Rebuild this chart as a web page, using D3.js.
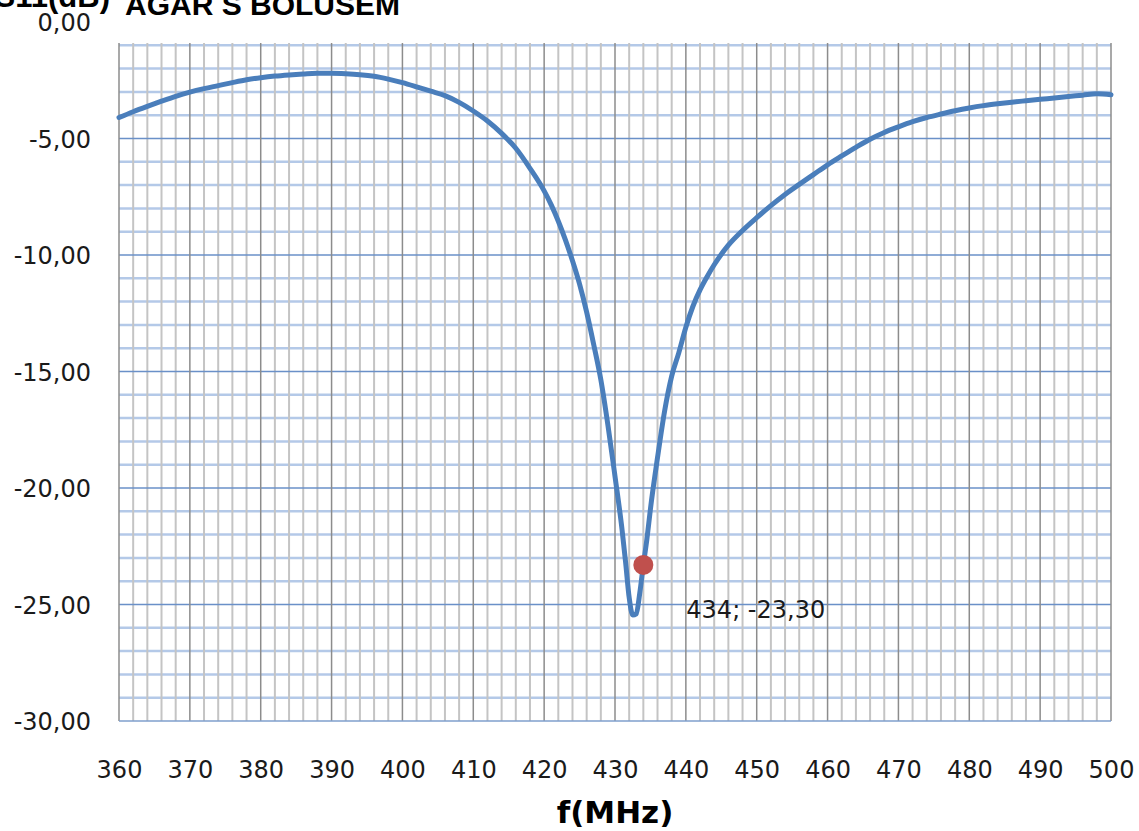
<!DOCTYPE html>
<html>
<head>
<meta charset="utf-8">
<script src="https://cdn.jsdelivr.net/npm/d3@7"></script>
<style>
  body { margin: 0; background: #fff; }
  svg { display: block; }
  .tick text { font-family: 'DejaVu Sans', sans-serif; font-size: 24px; fill: #1a1a1a; }
</style>
</head>
<body>
<script>
'use strict'

var freq = [360, 362, 364, 366, 368, 370, 372, 374, 376, 378, 380, 382, 384, 386, 388, 390,
  392, 394, 396, 398, 400, 402, 404, 406, 408, 410, 412, 414, 416, 418, 420, 421, 422, 423,
  424, 425, 426, 427, 428, 429, 430, 431, 431.5, 432, 432.5, 433, 433.5, 434, 434.5, 435,
  436, 437, 438, 439, 440, 441, 442, 443, 444, 446, 448, 450, 452, 454, 456, 458, 460, 462,
  464, 466, 468, 470, 472, 474, 476, 478, 480, 482, 484, 486, 488, 490, 492, 494, 496, 498, 500]
var s11 = [-4.10, -3.85, -3.62, -3.40, -3.19, -3.01, -2.86, -2.73, -2.60, -2.48, -2.39, -2.32,
  -2.27, -2.23, -2.20, -2.20, -2.22, -2.26, -2.33, -2.45, -2.60, -2.78, -2.97, -3.16, -3.45,
  -3.82, -4.25, -4.78, -5.42, -6.28, -7.25, -7.85, -8.55, -9.35, -10.25, -11.25, -12.45,
  -13.85, -15.35, -17.30, -19.50, -21.80, -23.20, -24.70, -25.45, -25.40, -24.50, -23.30,
  -22.20, -20.90, -18.70, -16.70, -15.20, -14.20, -13.10, -12.20, -11.50, -10.93, -10.42,
  -9.58, -8.95, -8.40, -7.88, -7.40, -6.97, -6.55, -6.13, -5.75, -5.38, -5.03, -4.74, -4.50,
  -4.28, -4.10, -3.95, -3.81, -3.69, -3.59, -3.51, -3.44, -3.38, -3.32, -3.26, -3.20, -3.14,
  -3.08, -3.12]

var marker = { f: 434, v: -23.30 }

var xTicks = [360, 370, 380, 390, 400, 410, 420, 430, 440, 450, 460, 470, 480, 490, 500]
var yTicks = [0, -5, -10, -15, -20, -25, -30]

var opts = {
  width: 1139,
  height: 831,
  left: 119,
  right: 1111,
  top: 22,
  bottom: 721,
  clipTop: 43
}

var locale = d3.formatLocale({ decimal: ',', thousands: '.', grouping: [3], currency: ['', ''], minus: '-' })
var fmt = locale.format('.2f')

var svg = d3.select('body').append('svg')
  .attr('width', opts.width)
  .attr('height', opts.height)

var x = d3.scaleLinear().domain([360, 500]).range([opts.left, opts.right])
var y = d3.scaleLinear().domain([-30, 0]).range([opts.bottom, opts.top])

var grid = svg.append('g')

// minor horizontal lines, every 1 dB
grid.selectAll()
  .data(d3.range(-29, 0).filter(function (d) { return d % 5 !== 0 }))
  .enter().append('line')
  .attr('x1', opts.left).attr('x2', opts.right)
  .attr('y1', y).attr('y2', y)
  .attr('stroke', '#b4c9e8').attr('stroke-width', 2.5)

// minor vertical lines, every 2 MHz
grid.selectAll()
  .data(d3.range(362, 500, 2).filter(function (d) { return d % 10 !== 0 }))
  .enter().append('line')
  .attr('x1', x).attr('x2', x)
  .attr('y1', opts.clipTop).attr('y2', opts.bottom)
  .attr('stroke', '#c4c4c4').attr('stroke-width', 2)

// major horizontal lines, every 5 dB
grid.selectAll()
  .data([-5, -10, -15, -20, -25])
  .enter().append('line')
  .attr('x1', opts.left).attr('x2', opts.right)
  .attr('y1', y).attr('y2', y)
  .attr('stroke', '#6a90c8').attr('stroke-width', 1.3)

// major vertical lines, every 10 MHz
grid.selectAll()
  .data(xTicks)
  .enter().append('line')
  .attr('x1', x).attr('x2', x)
  .attr('y1', opts.clipTop).attr('y2', opts.bottom)
  .attr('stroke', '#8c8c8c').attr('stroke-width', 1.5)

// bottom axis line
grid.append('line')
  .attr('x1', opts.left).attr('x2', opts.right)
  .attr('y1', opts.bottom).attr('y2', opts.bottom)
  .attr('stroke', '#7f9fcc').attr('stroke-width', 1.5)

var xAxis = svg.append('g')
  .attr('transform', 'translate(0,' + opts.bottom + ')')
  .call(d3.axisBottom(x).tickValues(xTicks).tickSize(0).tickFormat(d3.format('d')))
xAxis.select('.domain').remove()
xAxis.selectAll('text').attr('y', 57).attr('dy', 0)

var yAxis = svg.append('g')
  .attr('transform', 'translate(' + opts.left + ',0)')
  .call(d3.axisLeft(y).tickValues(yTicks).tickSize(0).tickFormat(function (d) { return fmt(d === 0 ? 0 : d) }))
yAxis.select('.domain').remove()
yAxis.selectAll('text').attr('x', -28).attr('dy', '0.36em')

var data = freq.map(function (f, i) { return { f: f, v: s11[i] } })

var line = d3.line()
  .x(function (d) { return x(d.f) })
  .y(function (d) { return y(d.v) })
  .curve(d3.curveMonotoneX)

svg.append('path')
  .datum(data)
  .attr('fill', 'none')
  .attr('stroke', '#4a7ebb')
  .attr('stroke-width', 5)
  .attr('stroke-linejoin', 'round')
  .attr('stroke-linecap', 'round')
  .attr('d', line)

svg.append('circle')
  .attr('cx', x(marker.f))
  .attr('cy', y(marker.v))
  .attr('r', 10)
  .attr('fill', '#c0504d')

svg.append('text')
  .attr('x', x(marker.f) + 43)
  .attr('y', y(marker.v) + 53)
  .attr('font-family', 'DejaVu Sans, sans-serif')
  .attr('font-size', 24)
  .attr('fill', '#1a1a1a')
  .text(marker.f + '; ' + fmt(marker.v))

// titles, partly cut off at the top edge like the original
svg.append('text')
  .attr('x', 110)
  .attr('y', 7)
  .attr('text-anchor', 'end')
  .attr('font-family', 'Liberation Sans, Arial, sans-serif')
  .attr('font-weight', 'bold')
  .attr('font-size', 31)
  .text('S11(dB)')

svg.append('text')
  .attr('x', 125)
  .attr('y', 15)
  .attr('font-family', 'Liberation Sans, Arial, sans-serif')
  .attr('font-weight', 'bold')
  .attr('font-size', 30)
  .text('AGAR S BOLUSEM')

svg.append('text')
  .attr('x', (opts.left + opts.right) / 2)
  .attr('y', 823)
  .attr('text-anchor', 'middle')
  .attr('font-family', 'DejaVu Sans, sans-serif')
  .attr('font-weight', 'bold')
  .attr('font-size', 31)
  .text('f(MHz)')
</script>
</body>
</html>
